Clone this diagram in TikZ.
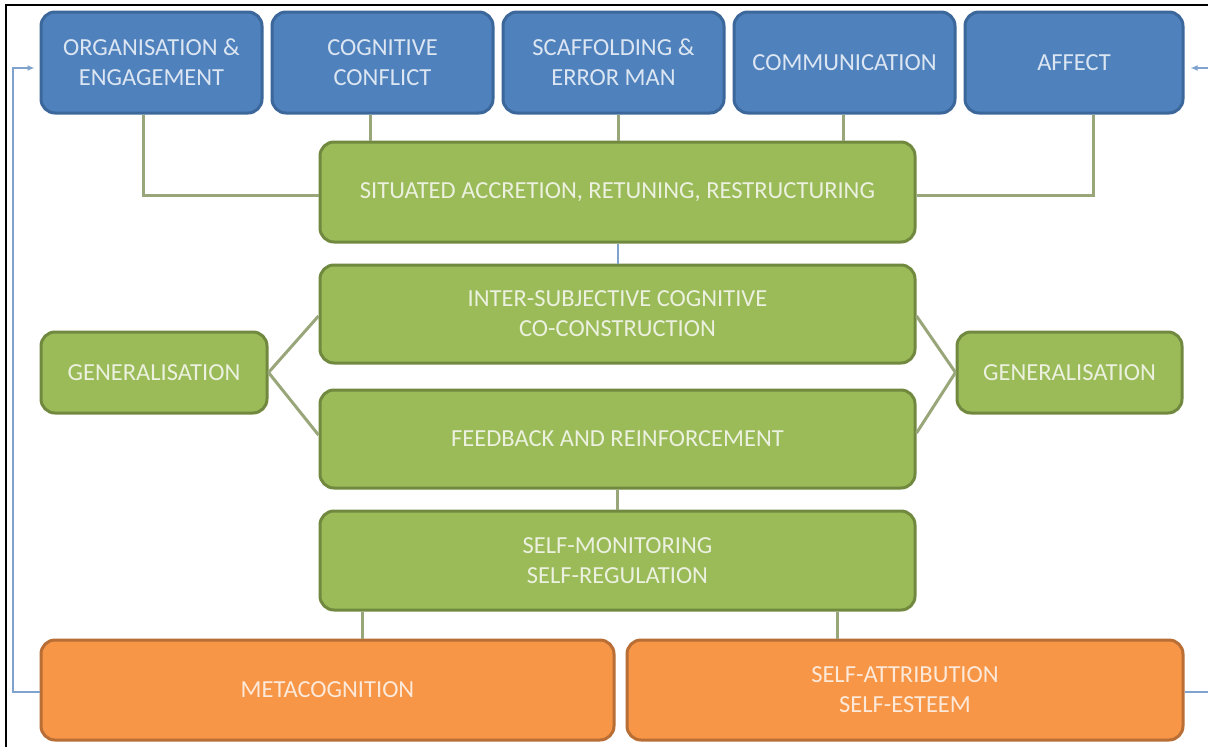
\documentclass[tikz,border=0pt]{standalone}
\usepackage{fontspec}
\setmainfont{Carlito}
\usetikzlibrary{arrows.meta}
\definecolor{bfill}{HTML}{4F81BD}
\definecolor{bdraw}{HTML}{3B679B}
\definecolor{btext}{HTML}{DCE6F2}
\definecolor{gfill}{HTML}{9BBB59}
\definecolor{gdraw}{HTML}{71893F}
\definecolor{gtext}{HTML}{EBF1DE}
\definecolor{ofill}{HTML}{F79646}
\definecolor{odraw}{HTML}{B86E34}
\definecolor{otext}{HTML}{FDE9D9}
\definecolor{conncol}{HTML}{98A67A}
\definecolor{fbcol}{HTML}{7FA3CC}
\tikzset{
  box/.style={rounded corners=14pt, line width=3pt, inner sep=0pt, align=center,
    font=\fontsize{24.5}{30}\selectfont},
  bluebox/.style={box, fill=bfill, draw=bdraw, text=btext, minimum width=221pt, minimum height=101pt},
  greenbox/.style={box, fill=gfill, draw=gdraw, text=gtext},
  orangebox/.style={box, fill=ofill, draw=odraw, text=otext, minimum height=100pt},
  conn/.style={draw=conncol, line width=3pt},
  fb/.style={draw=fbcol, line width=2.5pt},
}
\begin{document}
\begin{tikzpicture}[x=1pt,y=-1pt]
\useasboundingbox (0,0) rectangle (1208,747);
\fill[white] (0,0) rectangle (1208,747);
% frame
\draw[black, line width=1.4pt] (6,747) -- (6,5) -- (1208,5);

% top row
\node[bluebox] (org)  at (151.5,62.5) {ORGANISATION \&\\ENGAGEMENT};
\node[bluebox] (cog)  at (382.5,62.5) {COGNITIVE\\CONFLICT};
\node[bluebox] (scaf) at (613.5,62.5) {SCAFFOLDING \&\\ERROR MAN};
\node[bluebox] (comm) at (844.5,62.5) {COMMUNICATION};
\node[bluebox, minimum width=218pt] (aff) at (1074,62.5) {AFFECT};

% middle column
\node[greenbox, minimum width=595pt, minimum height=100pt] (sit) at (617.5,192) {SITUATED ACCRETION, RETUNING, RESTRUCTURING};
\node[greenbox, minimum width=595pt, minimum height=98pt] (inter) at (617.5,314) {INTER-SUBJECTIVE COGNITIVE\\CO-CONSTRUCTION};
\node[greenbox, minimum width=595pt, minimum height=98pt] (feed) at (617.5,439) {FEEDBACK AND REINFORCEMENT};
\node[greenbox, minimum width=595pt, minimum height=99pt] (selfm) at (617.5,560.5) {SELF-MONITORING\\SELF-REGULATION};

\node[greenbox, minimum width=226pt, minimum height=81pt] (genl) at (154,372.5) {GENERALISATION};
\node[greenbox, minimum width=225pt, minimum height=81pt] (genr) at (1069.5,372.5) {GENERALISATION};

% bottom row
\node[orangebox, minimum width=573pt] (meta) at (327.5,690) {METACOGNITION};
\node[orangebox, minimum width=556pt] (satt) at (905,690) {SELF-ATTRIBUTION\\SELF-ESTEEM};

% connectors top row -> situated
\draw[conn] ([xshift=-8.5pt]org.south) |- ([yshift=-3pt]sit.west);
\draw[conn] ([xshift=19pt]aff.south) |- ([yshift=-3pt]sit.east);
\draw[conn] ([xshift=-12.5pt]cog.south) -- ([xshift=-12.5pt]cog.south |- sit.north);
\draw[conn] ([xshift=4.5pt]scaf.south) -- ([xshift=4.5pt]scaf.south |- sit.north);
\draw[conn] ([xshift=-1.5pt]comm.south) -- ([xshift=-1.5pt]comm.south |- sit.north);

\draw[fb, line width=2pt] (sit.south) -- (inter.north);
\draw[conn] (feed.south) -- (selfm.north);

% generalisation links
\draw[conn] (genl.east) -- ([yshift=-2pt]inter.west);
\draw[conn] (genl.east) -- ([yshift=4pt]feed.west);
\draw[conn] (genr.west) -- ([yshift=-2pt]inter.east);
\draw[conn] (genr.west) -- ([yshift=6pt]feed.east);

% self-monitoring -> bottom row
\draw[conn] ([xshift=-255.5pt]selfm.south) -- ([xshift=-255.5pt]selfm.south |- meta.north);
\draw[conn] ([xshift=219.5pt]selfm.south) -- ([xshift=219.5pt]selfm.south |- satt.north);

% feedback loops
\coordinate (lb) at (13,692);
\coordinate (rb) at (1208,692);
\coordinate (rt) at (1208,68);
\draw[fb, -{Latex[length=7pt,width=6pt]}] ([yshift=-2pt]meta.west) -- (lb) |- ([xshift=-5pt,yshift=-5.5pt]org.west);
\draw[fb] ([yshift=-2pt]satt.east) -- (rb);
\draw[fb, -{Latex[length=7pt,width=6pt]}] (rt) -- ([xshift=6pt,yshift=-5.5pt]aff.east);
\end{tikzpicture}
\end{document}
